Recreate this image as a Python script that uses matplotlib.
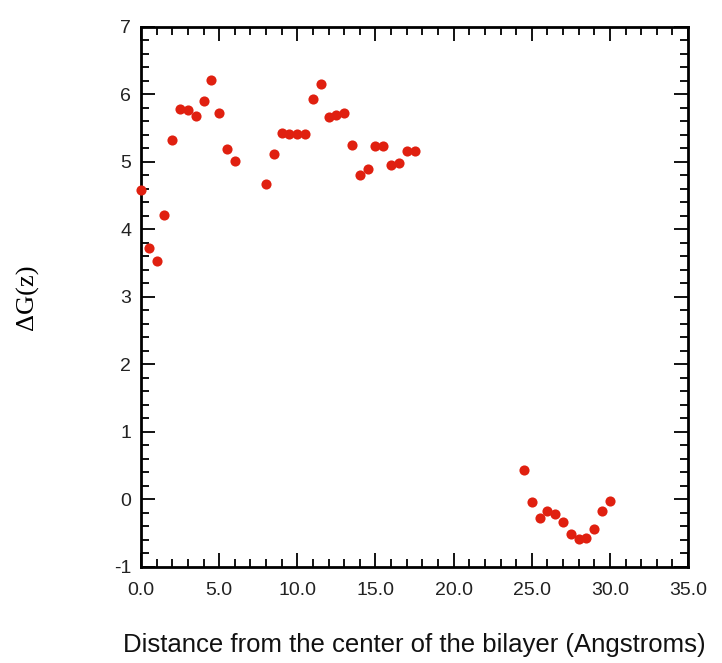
import matplotlib
matplotlib.use('Agg')
import matplotlib.pyplot as plt
from matplotlib.ticker import MultipleLocator, FormatStrFormatter

# distance from bilayer centre (Angstroms) and free energy
z1 = [0.0, 0.5, 1.0, 1.5, 2.0, 2.5, 3.0, 3.5, 4.0, 4.5, 5.0, 5.5, 6.0]
g1 = [4.58, 3.72, 3.53, 4.21, 5.32, 5.79, 5.77, 5.68, 5.90, 6.21, 5.73, 5.19, 5.01]

z2 = [8.0, 8.5, 9.0, 9.5, 10.0, 10.5, 11.0, 11.5, 12.0, 12.5, 13.0, 13.5,
      14.0, 14.5, 15.0, 15.5, 16.0, 16.5, 17.0, 17.5]
g2 = [4.67, 5.12, 5.43, 5.42, 5.42, 5.42, 5.94, 6.15, 5.67, 5.69, 5.73, 5.25,
      4.81, 4.90, 5.23, 5.23, 4.95, 4.99, 5.16, 5.16]

z3 = [24.5, 25.0, 25.5, 26.0, 26.5, 27.0, 27.5, 28.0, 28.5, 29.0, 29.5, 30.0]
g3 = [0.43, -0.04, -0.28, -0.17, -0.21, -0.34, -0.51, -0.59, -0.57, -0.43, -0.17, -0.02]

z = z1 + z2 + z3
g = g1 + g2 + g3

plt.rcParams['font.family'] = ['Liberation Sans', 'DejaVu Sans']

fig = plt.figure(figsize=(7.22, 6.63), dpi=100)
ax = fig.add_axes([0.1953, 0.1448, 0.7577, 0.8145])

ax.plot(z, g, 'o', color='#e02010', markersize=7.3, markeredgewidth=0,
        clip_on=False, zorder=3)

ax.set_xlim(0, 35)
ax.set_ylim(-1, 7)
ax.xaxis.set_major_locator(MultipleLocator(5))
ax.xaxis.set_minor_locator(MultipleLocator(1))
ax.yaxis.set_major_locator(MultipleLocator(1))
ax.yaxis.set_minor_locator(MultipleLocator(0.2))
ax.xaxis.set_major_formatter(FormatStrFormatter('%.1f'))
ax.yaxis.set_major_formatter(FormatStrFormatter('%d'))

ax.tick_params(which='both', direction='in', top=True, right=True, width=1.3)
ax.tick_params(which='major', length=10, labelsize=14, pad=7, labelcolor='#222222')
ax.tick_params(axis='x', which='major', pad=11)
ax.tick_params(which='minor', length=6)
for s in ax.spines.values():
    s.set_linewidth(2)

ax.set_xlabel('Distance from the center of the bilayer (Angstroms)', fontsize=18.5,
              labelpad=24, color='#111111')
ax.set_ylabel('ΔG(z)', fontsize=19, family=['Liberation Serif', 'DejaVu Serif'],
              labelpad=54)

fig.savefig('out.png', dpi=100)
